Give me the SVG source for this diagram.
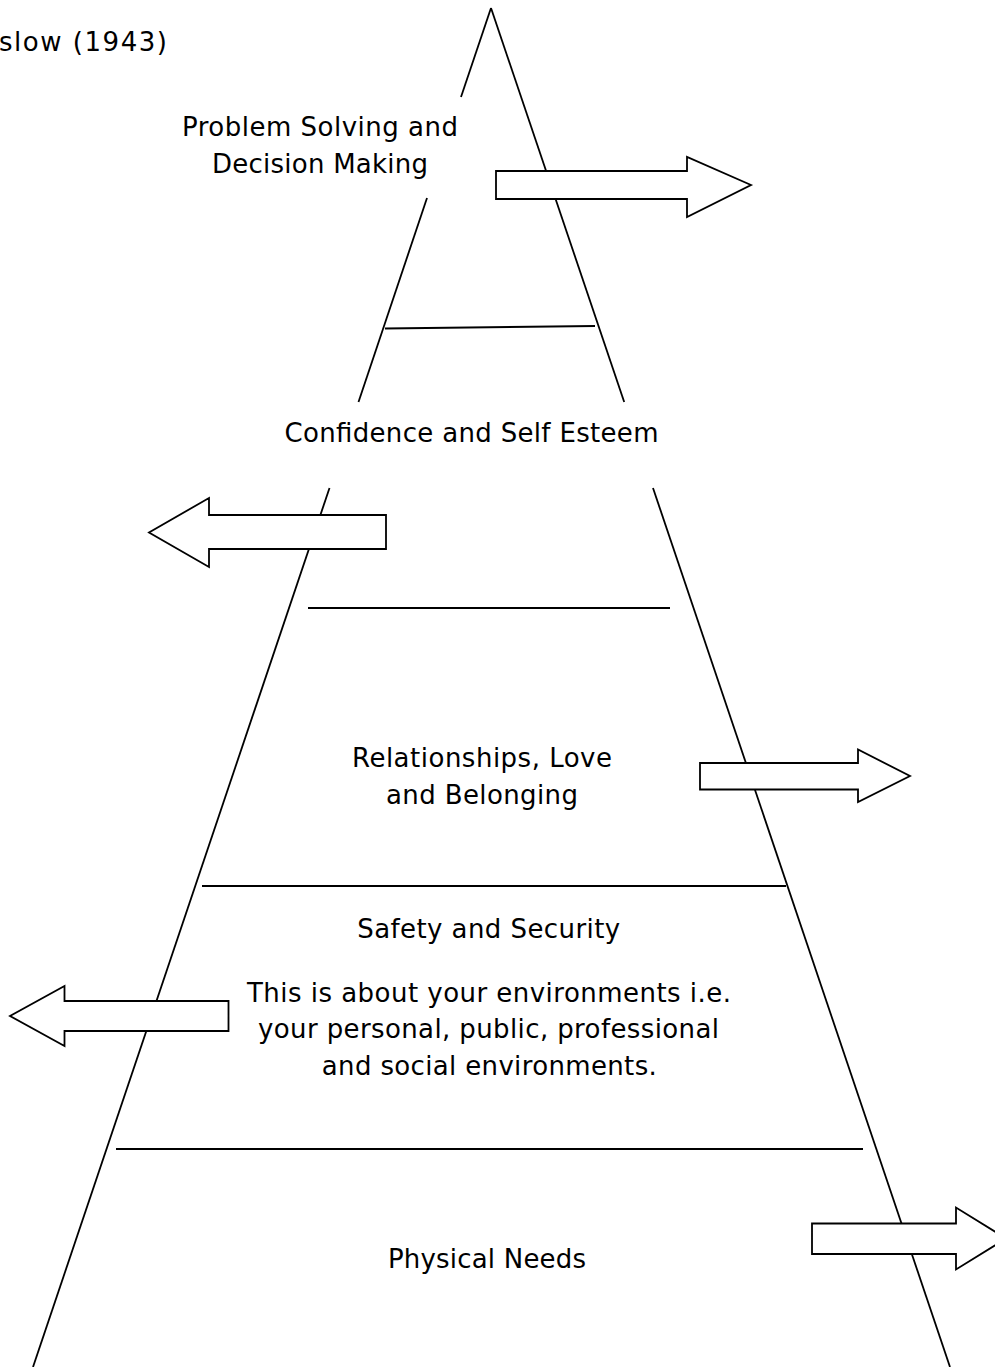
<svg xmlns="http://www.w3.org/2000/svg" width="995" height="1367" viewBox="0 0 995 1367">
  <style>
    .side { fill: none; stroke: #000; stroke-width: 1.8; }
    .tier { fill: none; stroke: #000; stroke-width: 2; }
    .arrow { fill: #fff; stroke: #000; stroke-width: 1.8; stroke-linejoin: miter; }
    text { font-family: "DejaVu Sans", Verdana, sans-serif; font-size: 26px; fill: #000; }
    .c { text-anchor: middle; }
  </style>
  <rect width="995" height="1367" fill="#fff"/>

  <!-- pyramid outline: the two sides, broken where the labels sit -->
  <g id="pyramid-sides">
    <line class="side" x1="461" y1="97" x2="491" y2="8"/>
    <line class="side" x1="491" y1="8" x2="624.2" y2="402"/>
    <line class="side" x1="427" y1="198" x2="358.5" y2="402"/>
    <line class="side" x1="329.5" y1="488" x2="33" y2="1367"/>
    <line class="side" x1="653" y1="488" x2="950" y2="1367"/>
  </g>

  <!-- dividing lines between the levels -->
  <g id="tier-lines">
    <line class="tier" x1="385" y1="328.5" x2="595" y2="326"/>
    <line class="tier" x1="308" y1="608" x2="670" y2="608"/>
    <line class="tier" x1="202" y1="886" x2="786" y2="886"/>
    <line class="tier" x1="116" y1="1149" x2="863" y2="1149"/>
  </g>

  <!-- block arrows pointing out of each level -->
  <g id="arrows">
    <polygon class="arrow" points="496,171 687,171 687,157 751,185 687,217 687,199 496,199"/>
    <polygon class="arrow" points="386,515 209,515 209,498 149,532.5 209,567 209,549 386,549"/>
    <polygon class="arrow" points="700,763 858,763 858,749.5 910,776 858,802 858,789.5 700,789.5"/>
    <polygon class="arrow" points="228.5,1001 64.5,1001 64.5,986 10,1016 64.5,1046 64.5,1031 228.5,1031"/>
    <polygon class="arrow" points="812,1223.5 956,1223.5 956,1207.5 1006,1238.5 956,1269.5 956,1254 812,1254"/>
  </g>

  <g id="title">
    <text x="-1" y="50.5" textLength="168" lengthAdjust="spacing">slow (1943)</text>
  </g>

  <g id="level-problem-solving">
    <text class="c" x="320" y="136" textLength="276" lengthAdjust="spacing">Problem Solving and</text>
    <text class="c" x="320" y="172.7" textLength="216" lengthAdjust="spacing">Decision Making</text>
  </g>

  <g id="level-confidence">
    <text class="c" x="471.5" y="441.7" textLength="374" lengthAdjust="spacing">Confidence and Self Esteem</text>
  </g>

  <g id="level-relationships">
    <text class="c" x="482" y="767.3" textLength="260" lengthAdjust="spacing">Relationships, Love</text>
    <text class="c" x="482" y="804" textLength="192" lengthAdjust="spacing">and Belonging</text>
  </g>

  <g id="level-safety">
    <text class="c" x="488.7" y="938.3" textLength="263" lengthAdjust="spacing">Safety and Security</text>
    <text class="c" x="489" y="1001.7" textLength="484" lengthAdjust="spacing">This is about your environments i.e.</text>
    <text class="c" x="488.5" y="1038.3" textLength="461" lengthAdjust="spacing">your personal, public, professional</text>
    <text class="c" x="489.3" y="1075" textLength="335" lengthAdjust="spacing">and social environments.</text>
  </g>

  <g id="level-physical">
    <text class="c" x="487" y="1267.7" textLength="198" lengthAdjust="spacing">Physical Needs</text>
  </g>
</svg>
